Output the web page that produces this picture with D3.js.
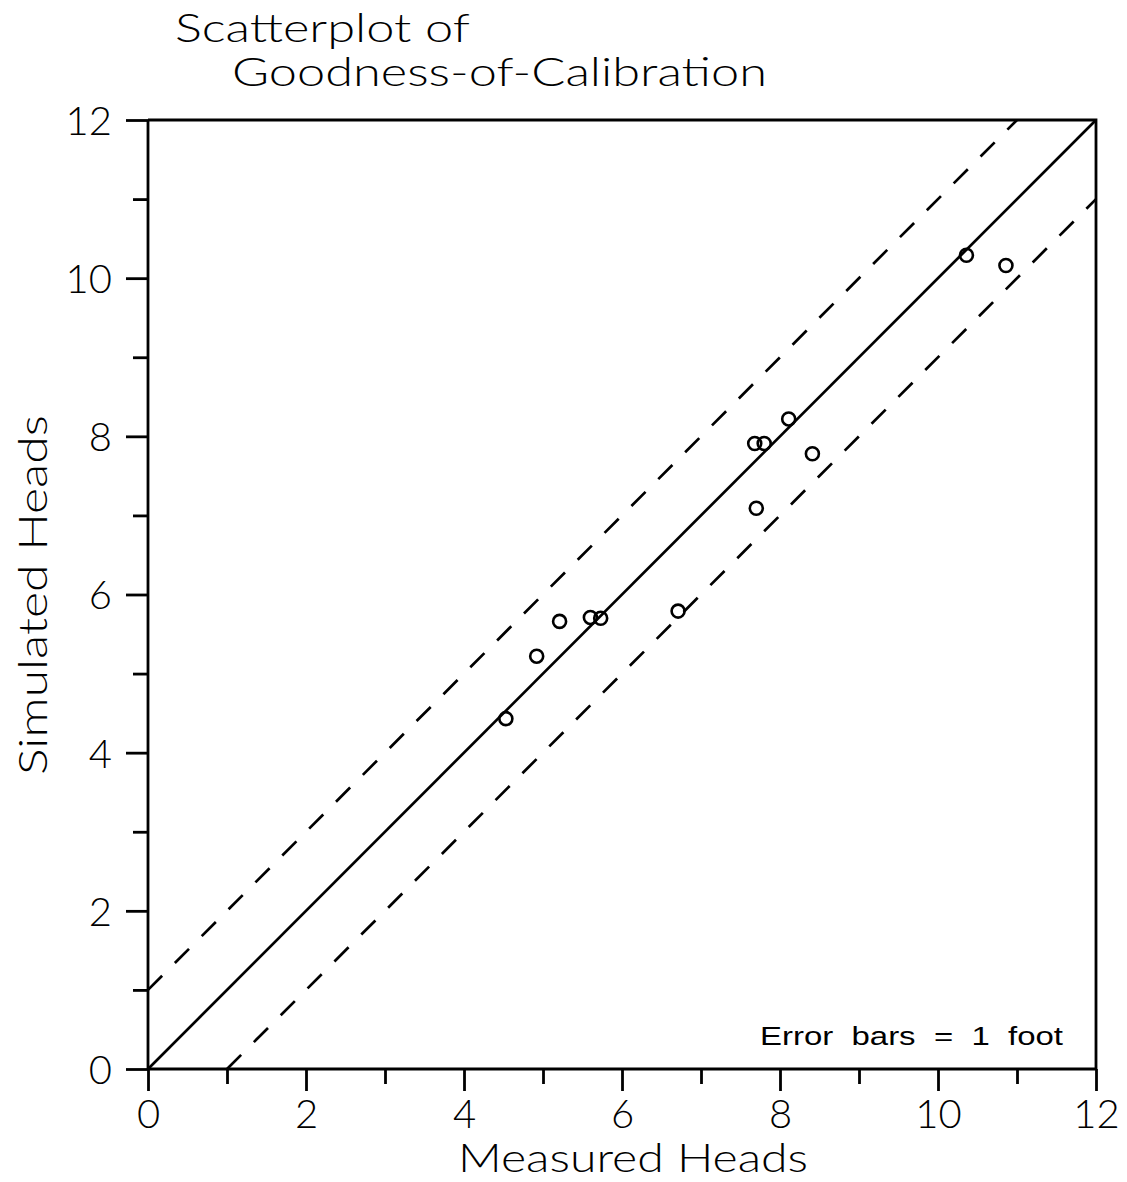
<!DOCTYPE html>
<html>
<head>
<meta charset="utf-8">
<script src="https://cdn.jsdelivr.net/npm/d3@7"></script>
<style>
  html, body { margin: 0; padding: 0; background: #fff; }
  svg { display: block; }
  .hershey { font-family: Lato, "Liberation Sans", "DejaVu Sans", sans-serif; font-weight: 300; fill: #000; }
</style>
</head>
<body>
<svg id="chart" width="1127" height="1182"></svg>
<script>
// ---- data ----
const titleLines = ["Scatterplot of", "Goodness-of-Calibration"];
const xLabel = "Measured Heads";
const yLabel = "Simulated Heads";
const noteText = "Error  bars  =  1  foot";
const majorTicks = [0, 2, 4, 6, 8, 10, 12];
const minorTicks = [1, 3, 5, 7, 9, 11];
const measured  = [4.53, 4.92, 5.21, 5.60, 5.73, 6.71, 7.68, 7.80, 8.11, 8.41, 7.70, 10.36, 10.86];
const simulated = [4.43, 5.22, 5.66, 5.71, 5.70, 5.79, 7.91, 7.91, 8.22, 7.78, 7.09, 10.29, 10.16];
const errorBar = 1;
const domain = [0, 12];

(function () {
  const svg = d3.select("#chart");
  const pLeft = 148, pRight = 1096, pTop = 120, pBottom = 1069;
  const x = d3.scaleLinear().domain(domain).range([pLeft, pRight]);
  const y = d3.scaleLinear().domain(domain).range([pBottom, pTop]);
  const axisW = 2.8;
  const lineW = 2.7;
  const lo = domain[0], hi = domain[1];

  // frame (top + right)
  svg.append("path")
    .attr("d", `M${x(lo)},${y(hi)} H${x(hi)} V${y(lo)}`)
    .attr("fill", "none").attr("stroke", "#000").attr("stroke-width", axisW);

  const xAxis = d3.axisBottom(x).tickValues(majorTicks).tickSize(22).tickPadding(8).tickFormat(d3.format("d"));
  const yAxis = d3.axisLeft(y).tickValues(majorTicks).tickSize(22).tickPadding(14).tickFormat(d3.format("d"));
  const xMinor = d3.axisBottom(x).tickValues(minorTicks).tickSize(15).tickFormat("");
  const yMinor = d3.axisLeft(y).tickValues(minorTicks).tickSize(15).tickFormat("");

  function styleAxis(g) {
    g.select(".domain").remove();
    g.selectAll(".tick line").attr("stroke-width", axisW);
    g.selectAll("text").attr("font-size", 40)
      .style("font-family", "Lato, 'Liberation Sans', sans-serif").style("font-weight", 300);
  }
  const gx = svg.append("g").attr("transform", `translate(0,${y(lo)})`).call(xAxis);
  styleAxis(gx);
  gx.selectAll("text").attr("dy", "0.72em");
  const gxm = svg.append("g").attr("transform", `translate(0,${y(lo)})`).call(xMinor);
  styleAxis(gxm);
  const gy = svg.append("g").attr("transform", `translate(${x(lo)},0)`).call(yAxis);
  styleAxis(gy);
  gy.selectAll("text").attr("dy", "0.36em");
  const gym = svg.append("g").attr("transform", `translate(${x(lo)},0)`).call(yMinor);
  styleAxis(gym);

  // axis lines
  svg.append("line").attr("x1", x(lo)).attr("x2", x(hi)).attr("y1", y(lo)).attr("y2", y(lo))
    .attr("stroke", "#000").attr("stroke-width", axisW);
  svg.append("line").attr("x1", x(lo)).attr("x2", x(lo)).attr("y1", y(lo)).attr("y2", y(hi))
    .attr("stroke", "#000").attr("stroke-width", axisW);

  // reference lines
  const line = d3.line().x(d => x(d[0])).y(d => y(d[1]));
  svg.append("path").datum([[lo, lo], [hi, hi]]).attr("d", line)
    .attr("fill", "none").attr("stroke", "#000").attr("stroke-width", lineW);
  svg.append("path").datum([[lo, lo + errorBar], [hi - errorBar, hi]]).attr("d", line)
    .attr("fill", "none").attr("stroke", "#000").attr("stroke-width", lineW).attr("stroke-dasharray", "20,18");
  svg.append("path").datum([[lo + errorBar, lo], [hi, hi - errorBar]]).attr("d", line)
    .attr("fill", "none").attr("stroke", "#000").attr("stroke-width", lineW).attr("stroke-dasharray", "20,18");

  // points
  svg.append("g").selectAll("circle").data(measured.map((m, i) => [m, simulated[i]]))
    .join("circle")
    .attr("cx", d => x(d[0])).attr("cy", d => y(d[1])).attr("r", 6.5)
    .attr("fill", "none").attr("stroke", "#000").attr("stroke-width", 2.6);

  // titles
  svg.append("text").attr("class", "hershey").attr("x", 175).attr("y", 42).attr("font-size", 39)
    .attr("textLength", 295).attr("lengthAdjust", "spacingAndGlyphs").text(titleLines[0]);
  svg.append("text").attr("class", "hershey").attr("x", 232).attr("y", 86).attr("font-size", 39)
    .attr("textLength", 535).attr("lengthAdjust", "spacingAndGlyphs").text(titleLines[1]);

  // axis labels
  svg.append("text").attr("class", "hershey").attr("x", 458).attr("y", 1172).attr("font-size", 40)
    .attr("textLength", 350).attr("lengthAdjust", "spacingAndGlyphs").text(xLabel);
  svg.append("text").attr("class", "hershey").attr("font-size", 40)
    .attr("transform", "translate(47,775) rotate(-90)")
    .attr("textLength", 360).attr("lengthAdjust", "spacingAndGlyphs").text(yLabel);

  // note
  svg.append("text").attr("x", 760).attr("y", 1045).attr("font-size", 26)
    .style("font-family", "'Liberation Sans', Arial, sans-serif").attr("fill", "#000")
    .attr("textLength", 303).attr("lengthAdjust", "spacingAndGlyphs")
    .style("white-space", "pre").text(noteText);
})();
</script>
</body>
</html>
